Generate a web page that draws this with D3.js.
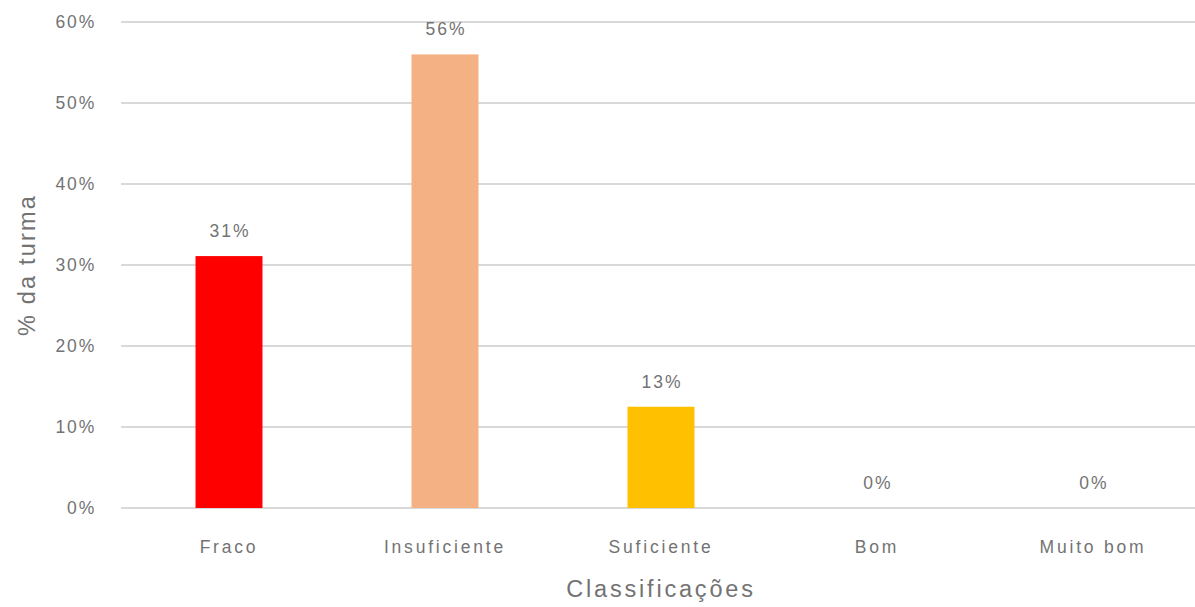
<!DOCTYPE html>
<html lang="pt">
<head>
    <meta charset="UTF-8">
    <title>Classificações</title>
    <style>
        body { margin: 0; background: #fff; }
        text { font-family: "Liberation Sans", Arial, sans-serif; fill: #737373; }
    </style>
</head>
<body>
    <script src="https://d3js.org/d3.v7.min.js"></script>
    <div id="chart"></div>
    <script>
    // data
    const categories = ["Fraco", "Insuficiente", "Suficiente", "Bom", "Muito bom"]
    const values = [0.311, 0.56, 0.125, 0, 0]
    const barColors = ["#ff0000", "#f4b183", "#ffc000", "#a5a5a5", "#5b9bd5"]
    const yTicks = [0, 0.1, 0.2, 0.3, 0.4, 0.5, 0.6]

    const W = 1195, H = 607
    const MARGIN = { LEFT: 121, RIGHT: -6, TOP: 22, BOTTOM: 99 }

    const svg = d3.select("#chart").append("svg")
        .attr("width", W).attr("height", H)

    const x = d3.scaleBand()
        .domain(categories)
        .range([MARGIN.LEFT, W - MARGIN.RIGHT])
        .paddingInner(0.69)
        .paddingOuter(0.345)

    const y = d3.scaleLinear()
        .domain([0, 0.6])
        .range([H - MARGIN.BOTTOM, MARGIN.TOP])

    const pct = d3.format(".0%")

    // gridlines
    svg.append("g")
        .selectAll("line")
        .data(yTicks)
        .join("line")
        .attr("x1", MARGIN.LEFT).attr("x2", W - MARGIN.RIGHT)
        .attr("y1", d => y(d)).attr("y2", d => y(d))
        .attr("stroke", "#d9d9d9").attr("stroke-width", 2)

    // y tick labels
    svg.append("g")
        .selectAll("text")
        .data(yTicks)
        .join("text")
        .attr("x", 96)
        .attr("y", d => y(d) + 6)
        .attr("text-anchor", "end")
        .style("font-size", "17.5px")
        .style("letter-spacing", "1.8px")
        .text(d => pct(d))

    // bars
    svg.append("g")
        .selectAll("rect")
        .data(values)
        .join("rect")
        .attr("x", (d, i) => x(categories[i]))
        .attr("width", x.bandwidth())
        .attr("y", d => y(d))
        .attr("height", d => y(0) - y(d))
        .attr("fill", (d, i) => barColors[i])

    // value labels
    svg.append("g")
        .selectAll("text")
        .data(values)
        .join("text")
        .attr("x", (d, i) => x(categories[i]) + x.bandwidth() / 2 + 1)
        .attr("y", d => y(d) - 19)
        .attr("text-anchor", "middle")
        .style("font-size", "17.5px")
        .style("letter-spacing", "2px")
        .text(d => pct(d))

    // category labels
    svg.append("g")
        .selectAll("text")
        .data(categories)
        .join("text")
        .attr("x", d => x(d) + x.bandwidth() / 2)
        .attr("y", y(0) + 45)
        .attr("text-anchor", "middle")
        .style("font-size", "17.5px")
        .style("letter-spacing", "2.8px")
        .text(d => d)

    // axis titles
    svg.append("text")
        .attr("x", (MARGIN.LEFT + W - MARGIN.RIGHT) / 2)
        .attr("y", 597)
        .attr("text-anchor", "middle")
        .style("font-size", "23.5px")
        .style("letter-spacing", "2.8px")
        .text("Classificações")

    svg.append("text")
        .attr("transform", `translate(35, ${(MARGIN.TOP + H - MARGIN.BOTTOM) / 2}) rotate(-90)`)
        .attr("text-anchor", "middle")
        .style("font-size", "23.5px")
        .style("letter-spacing", "2.2px")
        .text("% da turma")
    </script>
</body>
</html>
